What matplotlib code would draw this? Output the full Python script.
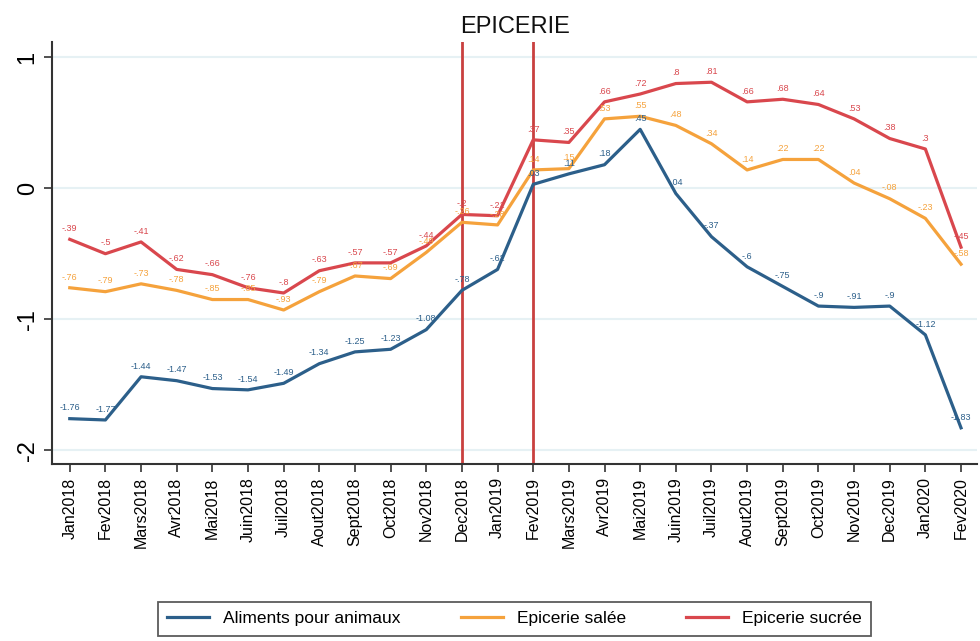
import matplotlib.pyplot as plt
import numpy as np

plt.rcParams["font.family"] = ["Liberation Sans", "DejaVu Sans"]

months = [
    "Jan2018", "Fev2018", "Mars2018", "Avr2018", "Mai2018", "Juin2018", "Juil2018",
    "Aout2018", "Sept2018", "Oct2018", "Nov2018", "Dec2018", "Jan2019", "Fev2019",
    "Mars2019", "Avr2019", "Mai2019", "Juin2019", "Juil2019", "Aout2019", "Sept2019",
    "Oct2019", "Nov2019", "Dec2019", "Jan2020", "Fev2020",
]

animaux = [-1.76, -1.77, -1.44, -1.47, -1.53, -1.54, -1.49, -1.34, -1.25, -1.23, -1.08,
           -0.78, -0.62, 0.03, 0.11, 0.18, 0.45, -0.04, -0.37, -0.6, -0.75, -0.9, -0.91,
           -0.9, -1.12, -1.83]
salee = [-0.76, -0.79, -0.73, -0.78, -0.85, -0.85, -0.93, -0.79, -0.67, -0.69, -0.49,
         -0.26, -0.28, 0.14, 0.15, 0.53, 0.55, 0.48, 0.34, 0.14, 0.22, 0.22, 0.04,
         -0.08, -0.23, -0.58]
sucree = [-0.39, -0.5, -0.41, -0.62, -0.66, -0.76, -0.8, -0.63, -0.57, -0.57, -0.44,
          -0.2, -0.21, 0.37, 0.35, 0.66, 0.72, 0.8, 0.81, 0.66, 0.68, 0.64, 0.53,
          0.38, 0.3, -0.45]

series = [
    ("Aliments pour animaux", animaux, "#2c5f8a"),
    ("Epicerie salée", salee, "#f5a23c"),
    ("Epicerie sucrée", sucree, "#d9474d"),
]
event_months = ["Dec2018", "Fev2019"]


def stata_label(v):
    s = f"{v:.2f}".rstrip("0").rstrip(".")
    return s.replace("-0.", "-.").replace("0.", ".") if abs(v) < 1 else s


x = np.arange(len(months))
fig = plt.figure(figsize=(9.8, 6.41), dpi=100)
ax = fig.add_axes([0.053, 0.276, 0.944, 0.658])

for yv in [-2, -1, 0, 1]:
    ax.axhline(yv, color="#e6f1f4", linewidth=1.5, zorder=0)

for name, vals, col in series:
    ax.plot(x, vals, color=col, linewidth=2.3, label=name, zorder=2)
    for xi, v in zip(x, vals):
        ax.annotate(stata_label(v), (xi, v), xytext=(0, 4.5), textcoords="offset points",
                    ha="center", va="bottom", fontsize=6.5, color=col, zorder=3)

for m in event_months:
    ax.axvline(months.index(m), color="#c9403f", linewidth=2, zorder=1)

ax.set_xlim(-0.5, 25.45)
ax.set_ylim(-2.107, 1.115)
ax.set_xticks(x)
ax.set_xticklabels(months, rotation=90, fontsize=11.5)
ax.set_yticks([-2, -1, 0, 1])
ax.set_yticklabels(["-2", "-1", "0", "1"], rotation=90, va="center", fontsize=17)
ax.tick_params(axis="both", length=6, width=1.2, color="#333333")
for side in ["top", "right"]:
    ax.spines[side].set_visible(False)
for side in ["left", "bottom"]:
    ax.spines[side].set_color("#333333")
    ax.spines[side].set_linewidth(1.5)

ax.text(12.5, 1.23, "EPICERIE", ha="center", va="center", fontsize=17, color="#111111")

leg = fig.legend(loc="lower center", bbox_to_anchor=(0.525, 0.0), ncol=3, fontsize=12.5,
                 frameon=True, fancybox=False, edgecolor="#333333", handlelength=2.4,
                 columnspacing=3.5, borderpad=0.55, borderaxespad=0.3)
leg.get_frame().set_linewidth(1.3)

fig.savefig("out.png", dpi=100)
